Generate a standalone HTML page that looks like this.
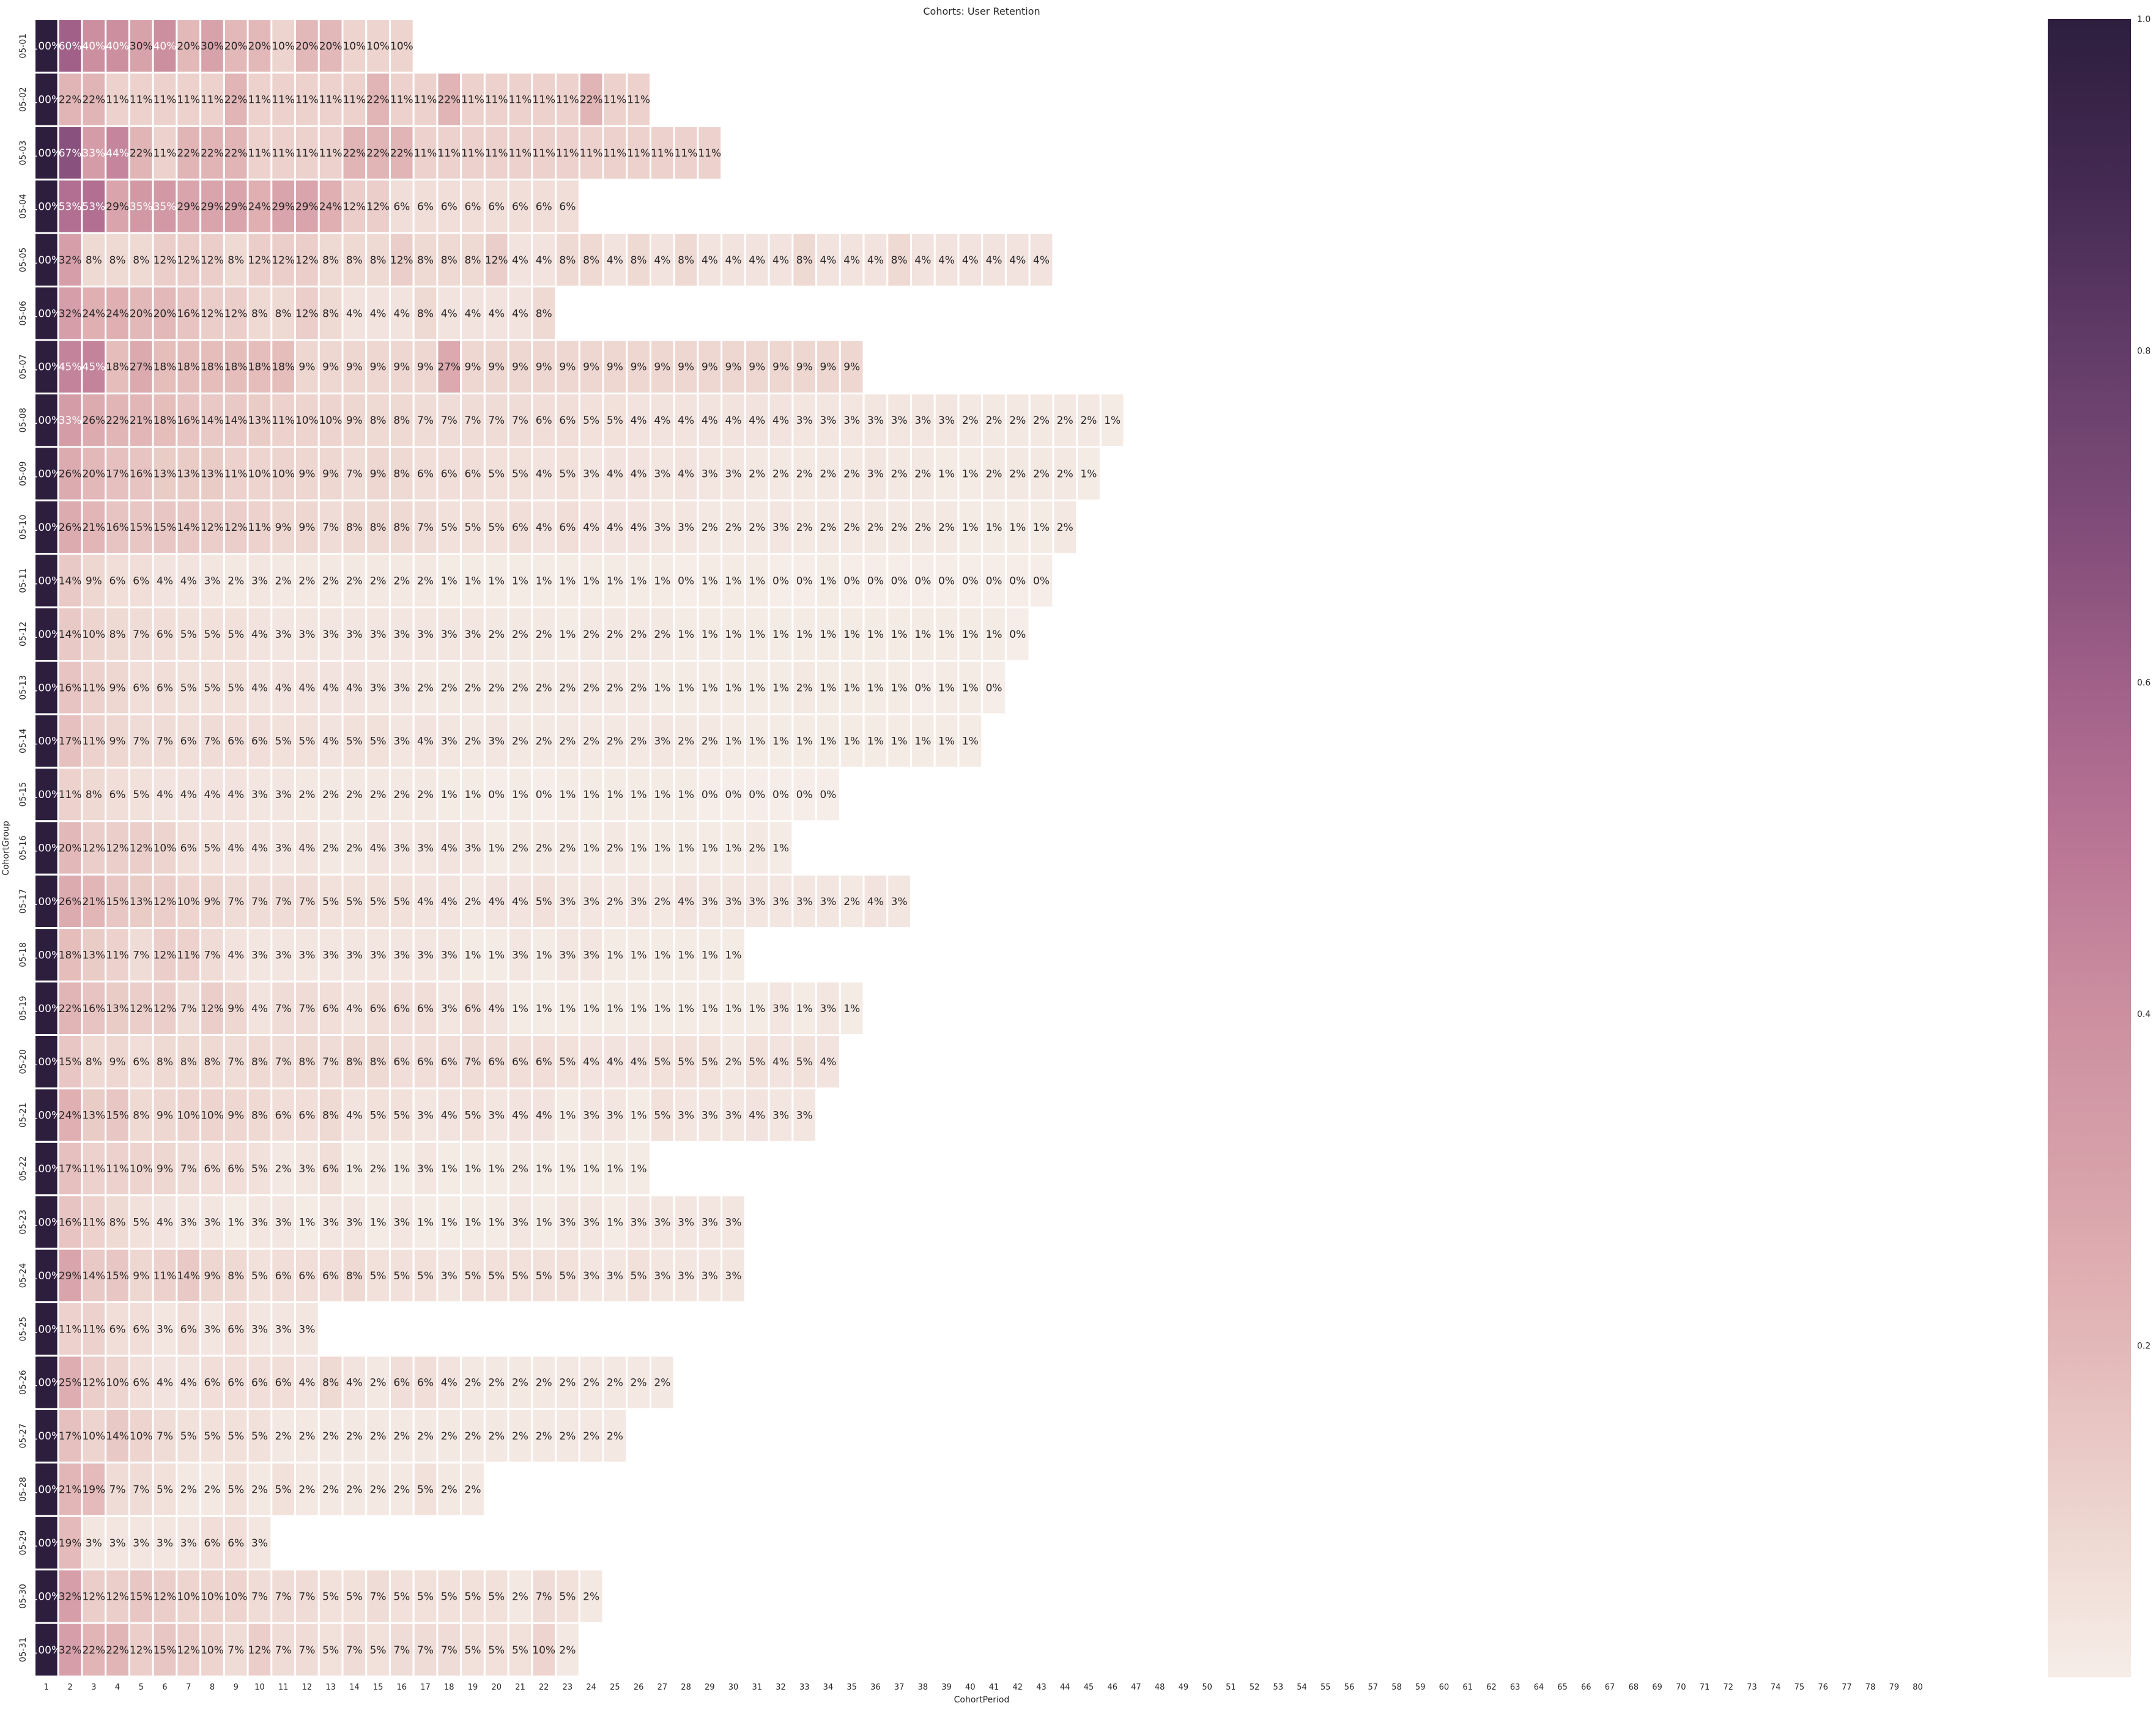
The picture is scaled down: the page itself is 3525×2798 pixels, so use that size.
<!DOCTYPE html>
<html><head><meta charset="utf-8"><title>Cohorts: User Retention</title>
<style>
html,body{margin:0;padding:0;background:#fff;}
svg{display:block;font-family:"DejaVu Sans","Liberation Sans",sans-serif;}
</style></head>
<body>
<svg id="chart" xmlns="http://www.w3.org/2000/svg" width="3525" height="2798" viewBox="0 0 3525 2798">
<text x="1605" y="24" font-size="16" fill="#262626" text-anchor="middle">Cohorts: User Retention</text>
<g id="cells"></g>
<g id="xticks"></g>
<g id="yticks"></g>
<text x="1605" y="2784" font-size="14" fill="#262626" text-anchor="middle">CohortPeriod</text>
<text transform="translate(14,1387) rotate(-90)" font-size="14" fill="#262626" text-anchor="middle">CohortGroup</text>
<defs>
<linearGradient id="cbgrad" x1="0" y1="1" x2="0" y2="0"></linearGradient>
</defs>
<rect x="3348" y="31" width="136" height="2712" fill="url(#cbgrad)"></rect>
<g id="cbticks"></g>
</svg>
<script>
const cohortGroups = ["05-01","05-02","05-03","05-04","05-05","05-06","05-07","05-08","05-09","05-10","05-11","05-12","05-13","05-14","05-15","05-16","05-17","05-18","05-19","05-20","05-21","05-22","05-23","05-24","05-25","05-26","05-27","05-28","05-29","05-30","05-31"];
const r0501 = [100,60,40,40,30,40,20,30,20,20,10,20,20,10,10,10];
const r0502 = [100,22,22,11,11,11,11,11,22,11,11,11,11,11,22,11,11,22,11,11,11,11,11,22,11,11];
const r0503 = [100,67,33,44,22,11,22,22,22,11,11,11,11,22,22,22,11,11,11,11,11,11,11,11,11,11,11,11,11];
const r0504 = [100,53,53,29,35,35,29,29,29,24,29,29,24,12,12,6,6,6,6,6,6,6,6];
const r0505 = [100,32,8,8,8,12,12,12,8,12,12,12,8,8,8,12,8,8,8,12,4,4,8,8,4,8,4,8,4,4,4,4,8,4,4,4,8,4,4,4,4,4,4];
const r0506 = [100,32,24,24,20,20,16,12,12,8,8,12,8,4,4,4,8,4,4,4,4,8];
const r0507 = [100,45,45,18,27,18,18,18,18,18,18,9,9,9,9,9,9,27,9,9,9,9,9,9,9,9,9,9,9,9,9,9,9,9,9];
const r0508 = [100,33,26,22,21,18,16,14,14,13,11,10,10,9,8,8,7,7,7,7,7,6,6,5,5,4,4,4,4,4,4,4,3,3,3,3,3,3,3,2,2,2,2,2,2,1];
const r0509 = [100,26,20,17,16,13,13,13,11,10,10,9,9,7,9,8,6,6,6,5,5,4,5,3,4,4,3,4,3,3,2,2,2,2,2,3,2,2,1,1,2,2,2,2,1];
const r0510 = [100,26,21,16,15,15,14,12,12,11,9,9,7,8,8,8,7,5,5,5,6,4,6,4,4,4,3,3,2,2,2,3,2,2,2,2,2,2,2,1,1,1,1,2];
const r0511 = [100,14,9,6,6,4,4,3,2,3,2,2,2,2,2,2,2,1,1,1,1,1,1,1,1,1,1,0,1,1,1,0,0,1,0,0,0,0,0,0,0,0,0];
const r0512 = [100,14,10,8,7,6,5,5,5,4,3,3,3,3,3,3,3,3,3,2,2,2,1,2,2,2,2,1,1,1,1,1,1,1,1,1,1,1,1,1,1,0];
const r0513 = [100,16,11,9,6,6,5,5,5,4,4,4,4,4,3,3,2,2,2,2,2,2,2,2,2,2,1,1,1,1,1,1,2,1,1,1,1,0,1,1,0];
const r0514 = [100,17,11,9,7,7,6,7,6,6,5,5,4,5,5,3,4,3,2,3,2,2,2,2,2,2,3,2,2,1,1,1,1,1,1,1,1,1,1,1];
const r0515 = [100,11,8,6,5,4,4,4,4,3,3,2,2,2,2,2,2,1,1,0,1,0,1,1,1,1,1,1,0,0,0,0,0,0];
const r0516 = [100,20,12,12,12,10,6,5,4,4,3,4,2,2,4,3,3,4,3,1,2,2,2,1,2,1,1,1,1,1,2,1];
const r0517 = [100,26,21,15,13,12,10,9,7,7,7,7,5,5,5,5,4,4,2,4,4,5,3,3,2,3,2,4,3,3,3,3,3,3,2,4,3];
const r0518 = [100,18,13,11,7,12,11,7,4,3,3,3,3,3,3,3,3,3,1,1,3,1,3,3,1,1,1,1,1,1];
const r0519 = [100,22,16,13,12,12,7,12,9,4,7,7,6,4,6,6,6,3,6,4,1,1,1,1,1,1,1,1,1,1,1,3,1,3,1];
const r0520 = [100,15,8,9,6,8,8,8,7,8,7,8,7,8,8,6,6,6,7,6,6,6,5,4,4,4,5,5,5,2,5,4,5,4];
const r0521 = [100,24,13,15,8,9,10,10,9,8,6,6,8,4,5,5,3,4,5,3,4,4,1,3,3,1,5,3,3,3,4,3,3];
const r0522 = [100,17,11,11,10,9,7,6,6,5,2,3,6,1,2,1,3,1,1,1,2,1,1,1,1,1];
const r0523 = [100,16,11,8,5,4,3,3,1,3,3,1,3,3,1,3,1,1,1,1,3,1,3,3,1,3,3,3,3,3];
const r0524 = [100,29,14,15,9,11,14,9,8,5,6,6,6,8,5,5,5,3,5,5,5,5,5,3,3,5,3,3,3,3];
const r0525 = [100,11,11,6,6,3,6,3,6,3,3,3];
const r0526 = [100,25,12,10,6,4,4,6,6,6,6,4,8,4,2,6,6,4,2,2,2,2,2,2,2,2,2];
const r0527 = [100,17,10,14,10,7,5,5,5,5,2,2,2,2,2,2,2,2,2,2,2,2,2,2,2];
const r0528 = [100,21,19,7,7,5,2,2,5,2,5,2,2,2,2,2,5,2,2];
const r0529 = [100,19,3,3,3,3,3,6,6,3];
const r0530 = [100,32,12,12,15,12,10,10,10,7,7,7,5,5,7,5,5,5,5,5,2,7,5,2];
const r0531 = [100,32,22,22,12,15,12,10,7,12,7,7,5,7,5,7,7,7,5,5,5,10,2];
const retention = [r0501,r0502,r0503,r0504,r0505,r0506,r0507,r0508,r0509,r0510,r0511,r0512,r0513,r0514,r0515,r0516,r0517,r0518,r0519,r0520,r0521,r0522,r0523,r0524,r0525,r0526,r0527,r0528,r0529,r0530,r0531];
const cohortPeriods = Array.from({length:80},(_,i)=>String(i+1));
const colorbarTicks = ["0.2","0.4","0.6","0.8","1.0"];

const NS="http://www.w3.org/2000/svg";
const X0=56.5, Y0=31.5, CW=38.73, RH=87.42;
const CB_TOP=31, CB_BOT=2743;
function xPos(i){return X0+i*CW;}
function yPos(j){return Y0+j*RH;}
function cbY(v){return CB_BOT-(v)*(CB_BOT-CB_TOP);}
const stops=[[0,[246,237,232]],[0.1,[237,212,206]],[0.2,[227,184,184]],[0.3,[216,162,170]],[0.4,[204,143,160]],[0.5,[186,118,149]],[0.6,[160,96,136]],[0.7,[127,75,120]],[0.8,[98,60,104]],[0.9,[68,42,82]],[1,[45,30,62]]];
function cmap(v){
  v=Math.max(0,Math.min(1,v));
  for(let k=1;k<stops.length;k++){
    if(v<=stops[k][0]){
      const a=stops[k-1],b=stops[k],t=(v-a[0])/(b[0]-a[0]);
      const c=a[1].map((x,i)=>Math.round(x+(b[1][i]-x)*t));
      return "rgb("+c.join(",")+")";
    }
  }
  return "rgb(45,30,62)";
}
function mk(tag,attrs,parent){const e=document.createElementNS(NS,tag);for(const k in attrs)e.setAttribute(k,attrs[k]);parent.appendChild(e);return e;}

const cells=document.getElementById("cells");
retention.forEach((row,j)=>{
  row.forEach((val,i)=>{
    const v=val/100;
    const r=mk("rect",{x:xPos(i),y:yPos(j),width:CW,height:RH,fill:cmap(v),stroke:"#fff","stroke-width":3},cells);
    
    
    const t=mk("text",{x:xPos(i)+CW/2,y:yPos(j)+RH/2+6,"font-size":17,"text-anchor":"middle",fill:v>=0.33?"#ffffff":"#262626"},cells);
    
    
    t.textContent=val+"%";
  });
});
const xt=document.getElementById("xticks");
cohortPeriods.forEach((lab,i)=>{
  const t=mk("text",{x:xPos(i)+CW/2,y:2763,"font-size":13,"text-anchor":"middle",fill:"#262626"},xt);
  
  
  t.textContent=lab;
});
const yt=document.getElementById("yticks");
cohortGroups.forEach((lab,j)=>{
  const cy=yPos(j)+RH/2;
  const t=mk("text",{transform:"translate(42,"+cy+") rotate(-90)","font-size":14,"text-anchor":"middle",fill:"#262626"},yt);
  
  
  t.textContent=lab;
});
const grad=document.getElementById("cbgrad");
for(let k=0;k<=20;k++){const v=k/20;mk("stop",{offset:v,"stop-color":cmap(v)},grad);}
const cbt=document.getElementById("cbticks");
colorbarTicks.forEach(lab=>{
  const t=mk("text",{x:3494,y:cbY(parseFloat(lab))+5,"font-size":14,fill:"#262626"},cbt);
  
  
  t.textContent=lab;
});
</script>
</body></html>
